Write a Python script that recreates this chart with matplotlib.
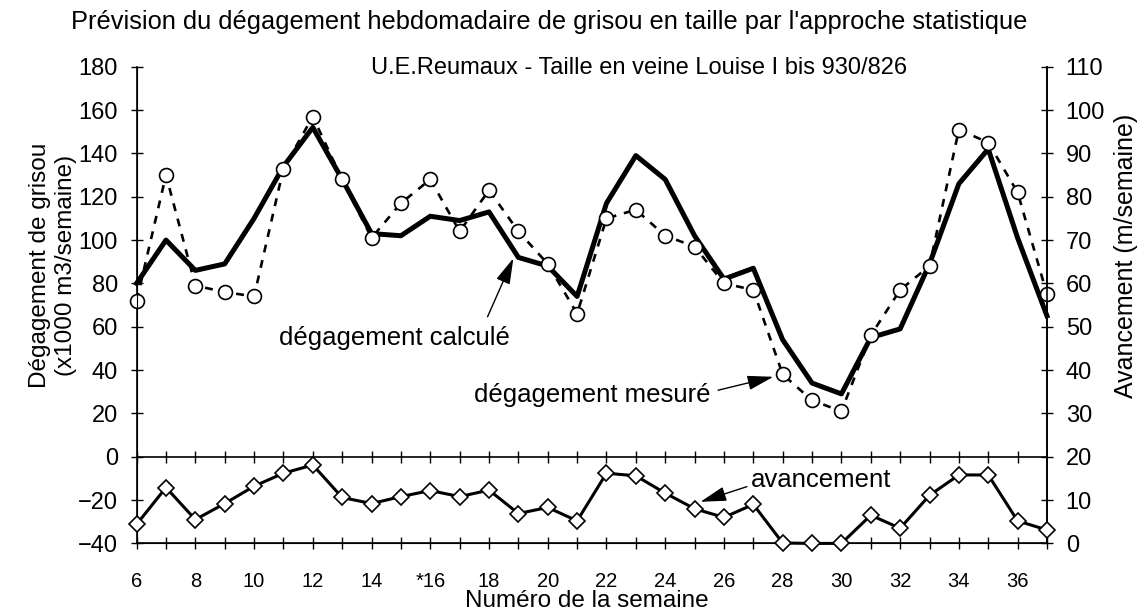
import matplotlib
matplotlib.use("Agg")
import matplotlib.pyplot as plt

plt.rcParams['font.family'] = ['Liberation Sans', 'DejaVu Sans']

# semaines
weeks = list(range(6, 38))
week_labels = ['6', '', '8', '', '10', '', '12', '', '14', '', '*16', '', '18', '', '20', '',
               '22', '', '24', '', '26', '', '28', '', '30', '', '32', '', '34', '', '36', '']

# dégagement calculé (x1000 m3/semaine)
calcule = [80, 100, 86, 89, 110, 134, 152, 128, 103, 102, 111, 109, 113, 92, 88, 74,
           117, 139, 128, 102, 82, 87, 54, 34, 29, 55, 59, 89, 126, 142, 101, 65]
# dégagement mesuré (x1000 m3/semaine)
mesure = [72, 130, 79, 76, 74, 133, 157, 128, 101, 117, 128, 104, 123, 104, 89, 66,
          110, 114, 102, 97, 80, 77, 38, 26, 21, 56, 77, 88, 151, 145, 122, 75]
# avancement (m/semaine), axe de droite
avancement = [4.4, 12.9, 5.5, 9.2, 13.2, 16.2, 18.1, 10.6, 9.2, 10.8, 12.2, 10.8, 12.3, 6.9, 8.3, 5.2,
              16.2, 15.6, 11.6, 8.0, 6.0, 9.0, 0.1, 0.0, 0.0, 6.5, 3.5, 11.1, 15.8, 15.8, 5.2, 3.1]

fig = plt.figure(figsize=(11.48, 6.15), dpi=100)
ax = fig.add_axes([0.119, 0.1164, 0.793, 0.7751])
ax2 = ax.twinx()

# left axis
ax.set_xlim(6, 37)
ax.set_ylim(-40, 180)
ax.set_yticks(range(-40, 181, 20))
ax.set_xticks(weeks)
ax.set_xticklabels(week_labels)
ax.tick_params(axis='y', direction='inout', length=9, width=1, labelsize=17, pad=9)
ax.tick_params(axis='x', direction='inout', length=9, width=1, labelsize=14.5, pad=16)
ax.spines['top'].set_visible(False)
for s in ['left', 'right', 'bottom']:
    ax.spines[s].set_linewidth(1.2)

# right axis
ax2.set_ylim(0, 110)
ax2.set_yticks(range(0, 111, 10))
ax2.tick_params(axis='y', direction='inout', length=9, width=1, labelsize=17, pad=9)
ax2.spines['top'].set_visible(False)
ax2.spines['right'].set_linewidth(1.2)

# separation line at 0 with week ticks
ax.axhline(0, color='black', lw=1.2, zorder=1)
ax.plot(weeks, [0] * len(weeks), ls='none', marker='|', markersize=9, color='black',
        markeredgewidth=1, zorder=1)

# courbes
ax.plot(weeks, calcule, color='black', lw=3.6, zorder=3, clip_on=False)
ax.plot(weeks, mesure, color='black', lw=1.9, ls=(0, (3, 3)), marker='o', markersize=10,
        markerfacecolor='white', markeredgecolor='black', markeredgewidth=1.2, zorder=4,
        clip_on=False)
ax2.plot(weeks, avancement, color='black', lw=2.2, marker='D', markersize=8.5,
         markerfacecolor='white', markeredgecolor='black', markeredgewidth=1.2, zorder=4,
         clip_on=False)

# annotations
arrow = dict(arrowstyle='-|>,head_length=1.6,head_width=0.45', mutation_scale=10,
             lw=1, color='black', shrinkA=0, shrinkB=0)
ax.text(14.78, 54.7, 'dégagement calculé', fontsize=18.5, ha='center', va='center')
ax.annotate('', xy=(18.83, 91.6), xytext=(17.95, 64.6), arrowprops=arrow)
ax.text(21.5, 28.4, 'dégagement mesuré', fontsize=18.5, ha='center', va='center')
ax.annotate('', xy=(27.68, 36.9), xytext=(25.8, 30.7), arrowprops=arrow)
ax.text(29.3, -10.75, 'avancement', fontsize=18.5, ha='center', va='center')
ax.annotate('', xy=(25.2, -20.8), xytext=(26.78, -13.8), arrowprops=arrow)

ax.text(0.552, 0.997, 'U.E.Reumaux - Taille en veine Louise I bis 930/826', transform=ax.transAxes,
        fontsize=17, ha='center', va='center')

ax.set_xlabel('Numéro de la semaine', fontsize=17.5, va='bottom')
ax.xaxis.set_label_coords(0.495, -0.143)
ax.set_ylabel('Dégagement de grisou\n(x1000 m3/semaine)', fontsize=17.5, va='center')
ax.yaxis.set_label_coords(-0.092, 0.584)
ax2.set_ylabel('Avancement (m/semaine)', fontsize=18, va='center')
ax2.yaxis.set_label_coords(1.087, 0.603)
fig.text(0.478, 0.965, "Prévision du dégagement hebdomadaire de grisou en taille par l'approche statistique",
         fontsize=18.3, ha='center', va='center')

fig.savefig('out.png', dpi=100)
